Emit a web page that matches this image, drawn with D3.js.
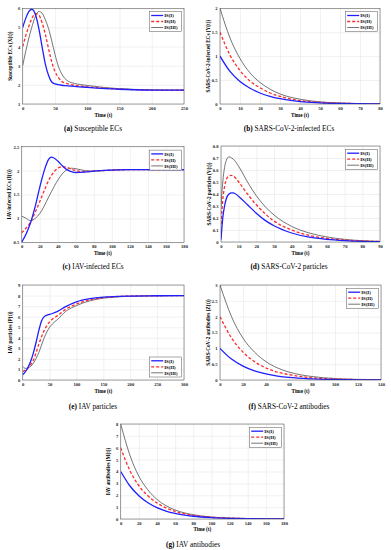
<!DOCTYPE html>
<html>
<head>
<meta charset="utf-8">
<script src="https://cdn.jsdelivr.net/npm/d3@7"></script>
<style>
  body { margin: 0; background: #fff; }
  svg { display: block; }
</style>
</head>
<body>
<div id="chart"></div>
<script>
// ---- data ----
const seriesNames = ["IS(I)", "IS(II)", "IS(III)"];

// (a) Susceptible ECs
const aTime = [0, 5, 10, 14, 20, 25, 30, 35, 40, 45, 50, 55, 60, 70, 80, 100, 150, 200, 250];
const aS1 = [5.0, 5.5, 5.85, 5.95, 5.65, 4.95, 4.0, 3.1, 2.5, 2.15, 2.05, 2.01, 1.98, 1.95, 1.92, 1.87, 1.77, 1.73, 1.72];
const aS2 = [4.0, 4.6, 5.1, 5.45, 5.72, 5.65, 5.25, 4.65, 3.9, 3.2, 2.7, 2.4, 2.2, 2.05, 1.98, 1.9, 1.78, 1.73, 1.72];
const aS3 = [3.0, 3.8, 4.5, 5.0, 5.6, 5.83, 5.75, 5.4, 4.95, 4.3, 3.6, 3.0, 2.6, 2.2, 2.08, 1.97, 1.8, 1.74, 1.72];

// (b) SARS-CoV-2-infected ECs
const bTime = [0, 5, 10, 15, 20, 25, 30, 40, 50, 60, 70, 80];
const bS1 = [1.0, 0.68, 0.47, 0.33, 0.23, 0.16, 0.11, 0.05, 0.025, 0.012, 0.005, 0.002];
const bS2 = [1.5, 1.02, 0.7, 0.48, 0.34, 0.23, 0.16, 0.07, 0.035, 0.016, 0.007, 0.003];
const bS3 = [2.0, 1.38, 0.95, 0.65, 0.45, 0.31, 0.21, 0.1, 0.045, 0.02, 0.009, 0.004];

// (c) IAV-infected ECs
const cTime = [0, 5, 10, 15, 20, 25, 30, 33, 40, 45, 50, 55, 60, 70, 80, 100, 120, 140, 180];
const cS1 = [0.5, 0.68, 0.92, 1.25, 1.65, 2.0, 2.24, 2.28, 2.2, 2.1, 2.02, 1.98, 1.96, 1.97, 1.99, 2.01, 2.02, 2.02, 2.02];
const cS2 = [0.7, 0.8, 0.93, 1.13, 1.35, 1.58, 1.8, 1.9, 2.05, 2.08, 2.07, 2.03, 2.0, 1.98, 1.99, 2.01, 2.02, 2.02, 2.02];
const cS3 = [1.05, 1.0, 0.95, 1.0, 1.1, 1.26, 1.45, 1.56, 1.8, 1.93, 2.02, 2.05, 2.04, 2.0, 1.99, 2.01, 2.02, 2.02, 2.02];

// (d) SARS-CoV-2 particles
const dTime = [0, 1, 2, 3, 4.5, 6, 7, 10, 15, 20, 25, 30, 40, 50, 60, 70, 80, 90];
const dS1 = [0.02, 0.2, 0.3, 0.36, 0.4, 0.41, 0.41, 0.38, 0.31, 0.24, 0.18, 0.135, 0.075, 0.04, 0.022, 0.012, 0.006, 0.003];
const dS2 = [0.15, 0.35, 0.46, 0.52, 0.55, 0.555, 0.55, 0.5, 0.4, 0.31, 0.235, 0.175, 0.1, 0.055, 0.03, 0.016, 0.008, 0.004];
const dS3 = [0.3, 0.5, 0.62, 0.68, 0.71, 0.7, 0.69, 0.63, 0.5, 0.385, 0.295, 0.225, 0.13, 0.075, 0.042, 0.022, 0.011, 0.005];

// (e) IAV particles
const eTime = [0, 5, 10, 15, 20, 25, 30, 35, 40, 45, 50, 55, 65, 80, 100, 125, 150, 200, 250, 300];
const eS1 = [0.5, 0.8, 1.2, 1.8, 2.6, 3.6, 4.7, 5.6, 6.0, 6.15, 6.22, 6.3, 6.5, 6.95, 7.4, 7.7, 7.85, 7.95, 7.98, 8.0];
const eS2 = [0.8, 0.95, 1.15, 1.45, 1.9, 2.6, 3.4, 4.1, 4.7, 5.15, 5.5, 5.75, 6.1, 6.7, 7.2, 7.6, 7.8, 7.95, 7.98, 8.0];
const eS3 = [1.3, 1.1, 1.15, 1.3, 1.6, 2.05, 2.6, 3.3, 4.0, 4.55, 5.0, 5.3, 5.75, 6.5, 7.05, 7.5, 7.75, 7.93, 7.98, 8.0];

// (f) SARS-CoV-2 antibodies
const fTime = [0, 10, 20, 30, 40, 50, 60, 80, 100, 120, 140];
const fS1 = [1.0, 0.66, 0.44, 0.29, 0.19, 0.125, 0.08, 0.035, 0.015, 0.007, 0.003];
const fS2 = [2.0, 1.33, 0.88, 0.58, 0.38, 0.25, 0.17, 0.07, 0.03, 0.013, 0.006];
const fS3 = [3.0, 2.0, 1.32, 0.88, 0.58, 0.38, 0.25, 0.11, 0.047, 0.02, 0.009];

// (g) IAV antibodies
const gTime = [0, 10, 20, 30, 40, 50, 60, 80, 100, 120, 140, 160, 180];
const gS1 = [4.0, 2.8, 1.96, 1.37, 0.96, 0.67, 0.47, 0.23, 0.11, 0.055, 0.027, 0.013, 0.006];
const gS2 = [6.0, 4.1, 2.8, 1.95, 1.35, 0.93, 0.65, 0.31, 0.15, 0.07, 0.035, 0.017, 0.008];
const gS3 = [8.0, 5.4, 3.6, 2.45, 1.65, 1.12, 0.76, 0.36, 0.17, 0.08, 0.038, 0.018, 0.009];

// ---- drawing ----
const W = 391, H = 550;
const serif = "'Liberation Serif', 'Times New Roman', serif";
const styles = [
  { color: "#1f1fff", width: 1.3, dash: null },
  { color: "#ff2a2a", width: 1.3, dash: "3,2" },
  { color: "#3a3a3a", width: 0.7, dash: null }
];

const svg = d3.select("#chart").append("svg")
  .attr("width", W).attr("height", H)
  .style("background", "#fff");

function drawPanel(cfg) {
  const { box } = cfg;
  const x = d3.scaleLinear().domain(cfg.xDomain).range([box.x0, box.x1]);
  const y = d3.scaleLinear().domain(cfg.yDomain).range([box.y1, box.y0]);
  const g = svg.append("g");

  // grid
  g.append("g")
    .attr("transform", `translate(0,${box.y1})`)
    .call(d3.axisBottom(x).tickValues(cfg.xTicks).tickSize(-(box.y1 - box.y0)).tickFormat(""))
    .call(s => s.select(".domain").remove())
    .call(s => s.selectAll("line").attr("stroke", "#e2e2e2").attr("stroke-width", 0.5));
  g.append("g")
    .attr("transform", `translate(${box.x0},0)`)
    .call(d3.axisLeft(y).tickValues(cfg.yTicks).tickSize(-(box.x1 - box.x0)).tickFormat(""))
    .call(s => s.select(".domain").remove())
    .call(s => s.selectAll("line").attr("stroke", "#e2e2e2").attr("stroke-width", 0.5));

  // tick labels
  const xAxis = g.append("g")
    .attr("transform", `translate(0,${box.y1})`)
    .call(d3.axisBottom(x).tickValues(cfg.xTicks).tickSize(0).tickPadding(2.5).tickFormat(d3.format("~g")));
  const yAxis = g.append("g")
    .attr("transform", `translate(${box.x0},0)`)
    .call(d3.axisLeft(y).tickValues(cfg.yTicks).tickSize(0).tickPadding(2.5).tickFormat(d3.format("~g")));
  [xAxis, yAxis].forEach(a => {
    a.select(".domain").remove();
    a.selectAll("text")
      .attr("font-family", serif).attr("font-size", 4.6).attr("font-weight", "bold").attr("fill", "#222");
  });

  // lines
  const series = cfg.series.map((vals, i) => ({ name: seriesNames[i], vals: vals }));
  const line = d3.line()
    .x((d, i) => x(cfg.t[i]))
    .y(d => y(d))
    .curve(d3.curveMonotoneX);
  const clipId = "clip" + cfg.id;
  g.append("clipPath").attr("id", clipId)
    .append("rect").attr("x", box.x0).attr("y", box.y0 - 1)
    .attr("width", box.x1 - box.x0).attr("height", box.y1 - box.y0 + 1);
  g.append("g").attr("clip-path", `url(#${clipId})`)
    .selectAll("path")
    .data(series.slice().reverse())
    .join("path")
    .attr("fill", "none")
    .attr("stroke", d => styles[seriesNames.indexOf(d.name)].color)
    .attr("stroke-width", d => styles[seriesNames.indexOf(d.name)].width)
    .attr("stroke-dasharray", d => styles[seriesNames.indexOf(d.name)].dash)
    .attr("d", d => line(d.vals));

  // frame
  g.append("rect")
    .attr("x", box.x0).attr("y", box.y0)
    .attr("width", box.x1 - box.x0).attr("height", box.y1 - box.y0)
    .attr("fill", "none").attr("stroke", "#444").attr("stroke-width", 0.5);

  // axis titles
  g.append("text")
    .attr("x", (box.x0 + box.x1) / 2).attr("y", cfg.timeY)
    .attr("text-anchor", "middle")
    .attr("font-family", serif).attr("font-size", 5.2).attr("font-weight", "bold")
    .text("Time (t)");
  g.append("text")
    .attr("transform", `translate(${box.x0 - 10.5},${(box.y0 + box.y1) / 2}) rotate(-90)`)
    .attr("text-anchor", "middle")
    .attr("font-family", serif).attr("font-size", 5.2).attr("font-weight", "bold")
    .text(cfg.ylabel);

  // legend
  const lw = 32, lh = 20;
  const lx = box.x1 - lw - 2.3;
  const ly = cfg.legendBottom ? box.y1 - lh - 3 : box.y0 + 3.4;
  const leg = g.append("g");
  leg.append("rect").attr("x", lx).attr("y", ly).attr("width", lw).attr("height", lh)
    .attr("fill", "#fff").attr("stroke", "#555").attr("stroke-width", 0.5);
  const legItems = leg.selectAll("g.item").data(seriesNames).join("g").attr("class", "item");
  legItems.append("line")
    .attr("x1", lx + 1.5).attr("x2", lx + 13.5)
    .attr("y1", (d, i) => ly + 3.8 + i * 6).attr("y2", (d, i) => ly + 3.8 + i * 6)
    .attr("stroke", (d, i) => styles[i].color)
    .attr("stroke-width", (d, i) => styles[i].width)
    .attr("stroke-dasharray", (d, i) => styles[i].dash);
  legItems.append("text")
    .attr("x", lx + 14.5).attr("y", (d, i) => ly + 5.5 + i * 6)
    .attr("font-family", serif).attr("font-size", 4.8).attr("font-weight", "bold")
    .text(d => d);

  // caption
  const cap = g.append("text")
    .attr("x", cfg.capX).attr("y", cfg.capY)
    .attr("text-anchor", "middle")
    .attr("font-family", serif).attr("font-size", 7.3);
  cap.append("tspan").attr("font-weight", "bold").text(cfg.capTag);
  cap.append("tspan").text(" " + cfg.caption);
}

const panels = [
  { id: "a", box: { x0: 22.7, x1: 184, y0: 8.3, y1: 104 }, xDomain: [0, 250], yDomain: [1, 6],
    xTicks: d3.range(0, 251, 50), yTicks: d3.range(1, 7, 1), t: aTime, series: [aS1, aS2, aS3],
    ylabel: "Susceptible ECs (X(t))", timeY: 117, capTag: "(a)", caption: "Susceptible ECs", capX: 93, capY: 131 },
  { id: "b", box: { x0: 220, x1: 380, y0: 8.3, y1: 104 }, xDomain: [0, 80], yDomain: [0, 2],
    xTicks: d3.range(0, 81, 10), yTicks: [0, 0.5, 1, 1.5, 2], t: bTime, series: [bS1, bS2, bS3],
    ylabel: "SARS-CoV-2-infected ECs (Y(t))", timeY: 117, capTag: "(b)", caption: "SARS-CoV-2-infected ECs", capX: 289, capY: 131 },
  { id: "c", box: { x0: 21.7, x1: 184, y0: 146.7, y1: 242.3 }, xDomain: [0, 180], yDomain: [0.5, 2.5],
    xTicks: d3.range(0, 181, 20), yTicks: [0.5, 1, 1.5, 2, 2.5], t: cTime, series: [cS1, cS2, cS3],
    ylabel: "IAV-infected ECs (I(t))", timeY: 255, capTag: "(c)", caption: "IAV-infected ECs", capX: 93, capY: 269 },
  { id: "d", box: { x0: 221, x1: 380, y0: 146, y1: 242 }, xDomain: [0, 90], yDomain: [0, 0.8],
    xTicks: d3.range(0, 91, 10), yTicks: d3.range(0, 0.81, 0.1), t: dTime, series: [dS1, dS2, dS3],
    ylabel: "SARS-CoV-2 particles (V(t))", timeY: 255, capTag: "(d)", caption: "SARS-CoV-2 particles", capX: 289, capY: 269 },
  { id: "e", box: { x0: 22.7, x1: 184, y0: 285, y1: 380 }, xDomain: [0, 300], yDomain: [0, 9],
    xTicks: d3.range(0, 301, 50), yTicks: d3.range(0, 10, 1), t: eTime, series: [eS1, eS2, eS3], legendBottom: true,
    ylabel: "IAV particles (P(t))", timeY: 392.5, capTag: "(e)", caption: "IAV particles", capX: 93, capY: 409 },
  { id: "f", box: { x0: 220, x1: 381, y0: 285, y1: 380 }, xDomain: [0, 140], yDomain: [0, 3],
    xTicks: d3.range(0, 141, 20), yTicks: [0, 0.5, 1, 1.5, 2, 2.5, 3], t: fTime, series: [fS1, fS2, fS3],
    ylabel: "SARS-CoV-2 antibodies (Z(t))", timeY: 392.5, capTag: "(f)", caption: "SARS-CoV-2 antibodies", capX: 289, capY: 409 },
  { id: "g", box: { x0: 120.7, x1: 284, y0: 424, y1: 519 }, xDomain: [0, 180], yDomain: [0, 8],
    xTicks: d3.range(0, 181, 20), yTicks: d3.range(0, 9, 1), t: gTime, series: [gS1, gS2, gS3],
    ylabel: "IAV antibodies (M(t))", timeY: 531, capTag: "(g)", caption: "IAV antibodies", capX: 193, capY: 547 }
];

panels.forEach(drawPanel);
</script>
</body>
</html>
